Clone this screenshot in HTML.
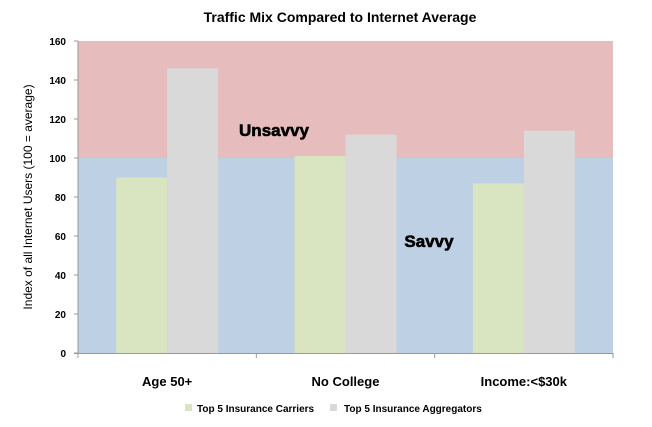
<!DOCTYPE html>
<html><head><meta charset="utf-8"><style>
body{margin:0;background:#fff;}
svg{display:block;font-family:"Liberation Sans",sans-serif;}
</style></head><body>
<svg id="chart" width="652" height="427">
<text x="340" y="22" text-anchor="middle" font-size="14" font-weight="bold" fill="#000">Traffic Mix Compared to Internet Average</text>
<g id="bands"></g>
<g id="bars"></g>
<g id="axes"></g>
<text x="274" y="136" text-anchor="middle" font-size="17" font-weight="900" fill="#000" stroke="#000" stroke-width="0.6">Unsavvy</text>
<text x="429" y="247" text-anchor="middle" font-size="17" font-weight="900" fill="#000" stroke="#000" stroke-width="0.6">Savvy</text>
<text transform="translate(32,197) rotate(-90)" text-anchor="middle" font-size="12" fill="#000">Index of all Internet Users (100 = average)</text>
<g>
<rect x="185" y="404" width="7" height="7" fill="#d9e4c0"/>
<text x="197" y="412" font-size="10" font-weight="bold">Top 5 Insurance Carriers</text>
<rect x="330" y="404" width="7" height="7" fill="#d9d9d9"/>
<text x="344" y="412" font-size="10" font-weight="bold">Top 5 Insurance Aggregators</text>
</g>
</svg>
<script>
const categories = ["Age 50+", "No College", "Income:<$30k"];
const carriers = [90, 101, 87];
const aggregators = [146, 112, 114];
const yTicks = [0, 20, 40, 60, 80, 100, 120, 140, 160];
const threshold = 100;

const L = 78, R = 613, T = 41, B = 353, yMax = 160;
const NS = "http://www.w3.org/2000/svg";
const y = v => B - (v / yMax) * (B - T);
const bandW = (R - L) / categories.length;
const barW = 51;
const x = i => L + bandW * i + bandW / 2;

function mk(tag, attrs, parent) {
  const e = document.createElementNS(NS, tag);
  for (const k in attrs) e.setAttribute(k, attrs[k]);
  parent.appendChild(e);
  return e;
}
const bands = document.getElementById('bands');
const r1 = mk('rect', {x: L, y: T, width: R - L, height: y(threshold) - T, fill: '#e6bcbc'}, bands);


const r2 = mk('rect', {x: L, y: y(threshold), width: R - L, height: B - y(threshold), fill: '#bdd0e4'}, bands);



const bars = document.getElementById('bars');
categories.forEach((c, i) => {
  const g = mk('rect', {x: x(i) - barW, y: y(carriers[i]), width: barW, height: B - y(carriers[i]), fill: '#d9e4c0'}, bars);
  
  
  const a = mk('rect', {x: x(i), y: y(aggregators[i]), width: barW, height: B - y(aggregators[i]), fill: '#d9d9d9'}, bars);
  
  
  const t = mk('text', {x: x(i), y: 386, 'text-anchor': 'middle', 'font-size': 13, 'font-weight': 'bold'}, bars);
  t.textContent = c;
  
  
});

const axes = document.getElementById('axes');
const ya = mk('line', {x1: L, y1: T, x2: L, y2: B, stroke: '#999', 'stroke-width': 1}, axes);


const xa = mk('line', {x1: L - 4, y1: B + 0.5, x2: R, y2: B + 0.5, stroke: '#999', 'stroke-width': 1}, axes);


for (let i = 0; i <= categories.length; i++) {
  const tk = mk('line', {x1: L + bandW * i, y1: B, x2: L + bandW * i, y2: B + 5, stroke: '#999'}, axes);
  
  
}
yTicks.forEach(v => {
  const tk = mk('line', {x1: L - 4, y1: y(v), x2: L, y2: y(v), stroke: '#999'}, axes);
  
  
  const t = mk('text', {x: L - 12, y: y(v) + 4, 'text-anchor': 'end', 'font-size': 10, 'font-weight': 'bold'}, axes);
  t.textContent = v;
  
  
});
</script>
</body></html>
